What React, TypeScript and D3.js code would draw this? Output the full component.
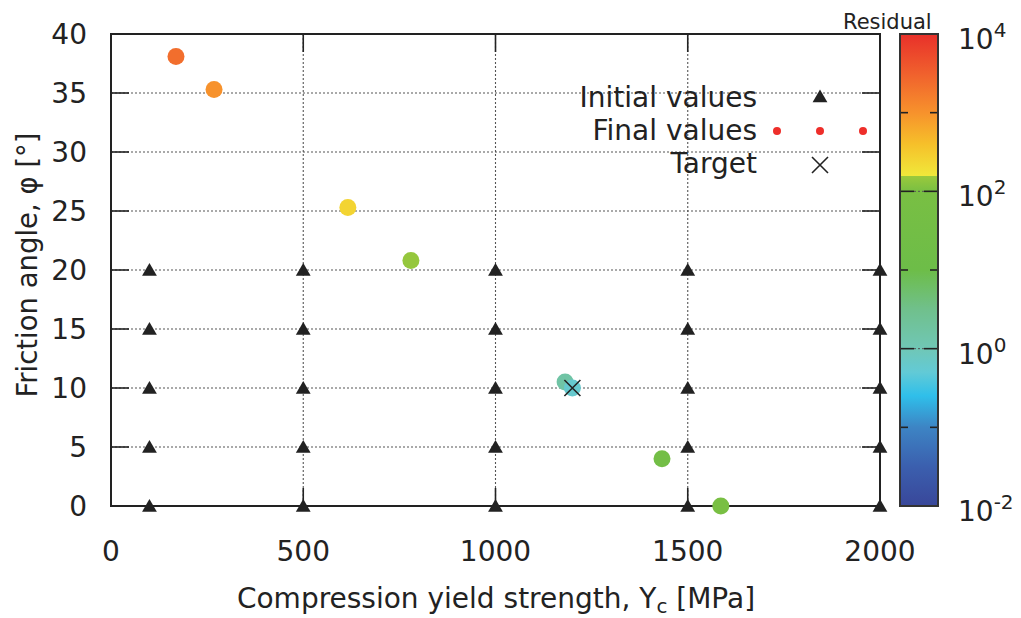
import React from "react";
import * as d3 from "d3";

// ---------- data ----------
const initialX = [100, 500, 1000, 1500, 2000];
const initialY = [0, 5, 10, 15, 20];

const finalX = [169, 268, 616, 780, 1181, 1200, 1433, 1586];
const finalY = [38.1, 35.3, 25.3, 20.8, 10.5, 10.0, 4.0, 0.0];
const finalResidual = [2300, 1000, 250, 145, 1.6, 0.6, 30, 100];

const targetX = 1200;
const targetY = 10;

const xTicks = [0, 500, 1000, 1500, 2000];
const yTicks = [0, 5, 10, 15, 20, 25, 30, 35, 40];
const cbMajor = [1e-2, 1e0, 1e2, 1e4];
const cbMinor = [1e-1, 1e1, 1e3];
const cbExponents = ["-2", "0", "2", "4"];

// palette: log10(residual) -> colour
const paletteLog = [-2, -1.5, -1, -0.6, -0.3, 0, 0.5, 1, 2, 2.19, 2.2, 2.6, 3, 3.5, 4];
const paletteColor = [
  "#39479a", "#3b5fae", "#3d84c4", "#2fbfea", "#62cad6", "#70c7b6", "#70c08c",
  "#6dbd48", "#79bf43", "#9ac93c", "#f0e83a", "#f6c02a", "#f7922c", "#f0602d", "#e8302a",
];

const FONT = "DejaVu Sans";
const INK = "#222";

export default function App() {
  const W = 1021, H = 618;
  const left = 111, right = 880, top = 34, bottom = 506;
  const x = d3.scaleLinear().domain([0, 2000]).range([left, right]);
  const y = d3.scaleLinear().domain([0, 40]).range([bottom, top]);
  const cbX0 = 900, cbX1 = 938;
  const cb = d3.scaleLog().domain([1e-2, 1e4]).range([bottom, top]);
  const color = d3.scaleLinear<string>().domain(paletteLog).range(paletteColor).interpolate(d3.interpolateRgb).clamp(true);

  const tri = d3.symbol(d3.symbolTriangle, 95)() as string;
  const tickLen = 18;

  const initPts: [number, number][] = [];
  initialX.forEach((a) => initialY.forEach((b) => initPts.push([a, b])));

  const gridStyle = { stroke: "#555", strokeWidth: 1.1, strokeDasharray: "2,2" };

  const cross = (cx: number, cy: number, s: number) =>
    `M${cx - s},${cy - s}L${cx + s},${cy + s}M${cx - s},${cy + s}L${cx + s},${cy - s}`;

  return (
    <svg width={W} height={H} style={{ position: "absolute", left: 0, top: 0, background: "#fff" }} fontFamily={FONT}>
      <defs>
        <linearGradient id="cbgrad" x1="0" y1="1" x2="0" y2="0">
          {paletteLog.map((l, i) => (
            <stop key={i} offset={(l - paletteLog[0]) / (paletteLog[paletteLog.length - 1] - paletteLog[0])} stopColor={paletteColor[i]} />
          ))}
        </linearGradient>
      </defs>

      {/* grid */}
      {xTicks.filter((t) => t > 0 && t < 2000).map((t) => (
        <line key={"gx" + t} x1={x(t)} x2={x(t)} y1={top} y2={bottom} {...gridStyle} />
      ))}
      {yTicks.filter((t) => t > 0 && t < 40).map((t) => (
        <line key={"gy" + t} x1={left} x2={right} y1={y(t)} y2={y(t)} {...gridStyle} />
      ))}

      {/* ticks */}
      {xTicks.map((t) => (
        <g key={"tx" + t} stroke={INK} strokeWidth={1.6}>
          <line x1={x(t)} x2={x(t)} y1={bottom} y2={bottom - tickLen} />
          <line x1={x(t)} x2={x(t)} y1={top} y2={top + tickLen} />
        </g>
      ))}
      {yTicks.map((t) => (
        <g key={"ty" + t} stroke={INK} strokeWidth={1.6}>
          <line x1={left} x2={left + tickLen} y1={y(t)} y2={y(t)} />
          <line x1={right} x2={right - tickLen} y1={y(t)} y2={y(t)} />
        </g>
      ))}

      {/* border */}
      <rect x={left} y={top} width={right - left} height={bottom - top} fill="none" stroke={INK} strokeWidth={2} />

      {/* tick labels */}
      {xTicks.map((t) => (
        <text key={"lx" + t} x={x(t)} y={561} textAnchor="middle" fontSize={28} fill={INK}>{t}</text>
      ))}
      {yTicks.map((t) => (
        <text key={"ly" + t} x={87} y={y(t) + 10} textAnchor="end" fontSize={28} fill={INK}>{t}</text>
      ))}

      {/* axis titles */}
      <text x={496} y={608} textAnchor="middle" fontSize={28} fill={INK}>
        Compression yield strength, Y<tspan fontSize={20} dy={5}>c</tspan><tspan dy={-5}> [MPa]</tspan>
      </text>
      <text transform="translate(37,265) rotate(-90)" textAnchor="middle" fontSize={27.5} fill={INK}>
        Friction angle, φ [°]
      </text>

      {/* initial values */}
      {initPts.map(([a, b], i) => (
        <path key={"ip" + i} d={tri} transform={`translate(${x(a)},${y(b) + 1.5})`} fill={INK} />
      ))}

      {/* final values */}
      {finalX.map((a, i) => (
        <circle key={"fp" + i} cx={x(a)} cy={y(finalY[i])} r={8.5} fill={color(Math.log10(finalResidual[i]))} />
      ))}

      {/* target */}
      <path d={cross(x(targetX), y(targetY), 8)} stroke={INK} strokeWidth={1.6} fill="none" />

      {/* legend */}
      <text x={757} y={107} textAnchor="end" fontSize={28} fill={INK}>Initial values</text>
      <path d={tri} transform={`translate(820,98)`} fill={INK} />
      <text x={757} y={140} textAnchor="end" fontSize={28} fill={INK}>Final values</text>
      {[777, 820, 863].map((cx) => (
        <circle key={"ld" + cx} cx={cx} cy={131} r={4} fill="#ee2e2a" />
      ))}
      <text x={757} y={173} textAnchor="end" fontSize={28} fill={INK}>Target</text>
      <path d={cross(820, 165, 8)} stroke={INK} strokeWidth={1.6} fill="none" />

      {/* colorbar */}
      <rect x={cbX0} y={top} width={cbX1 - cbX0} height={bottom - top} fill="url(#cbgrad)" />
      {cbMinor.map((v) => (
        <g key={"cm" + v} stroke={INK} strokeWidth={1.6}>
          <line x1={cbX0} x2={cbX0 + 8} y1={cb(v)} y2={cb(v)} />
          <line x1={cbX1} x2={cbX1 - 8} y1={cb(v)} y2={cb(v)} />
        </g>
      ))}
      {cbMajor.map((v) => (
        <g key={"cM" + v} stroke={INK} strokeWidth={1.6}>
          <line x1={cbX0} x2={cbX0 + 14} y1={cb(v)} y2={cb(v)} />
          <line x1={cbX1} x2={cbX1 - 14} y1={cb(v)} y2={cb(v)} />
          <line x1={cbX0 + 14} x2={cbX1 - 14} y1={cb(v)} y2={cb(v)} strokeWidth={1} strokeDasharray="2,2" stroke="#555" />
        </g>
      ))}
      <rect x={cbX0} y={top} width={cbX1 - cbX0} height={bottom - top} fill="none" stroke="#333" strokeWidth={2} />
      {cbMajor.map((v, i) => (
        <text key={"cl" + v} x={958} y={cb(v) + 15} fontSize={28} fill={INK}>
          10<tspan fontSize={20} dy={-12}>{cbExponents[i]}</tspan>
        </text>
      ))}
      <text x={843} y={29} fontSize={21} fill={INK}>Residual</text>
    </svg>
  );
}
